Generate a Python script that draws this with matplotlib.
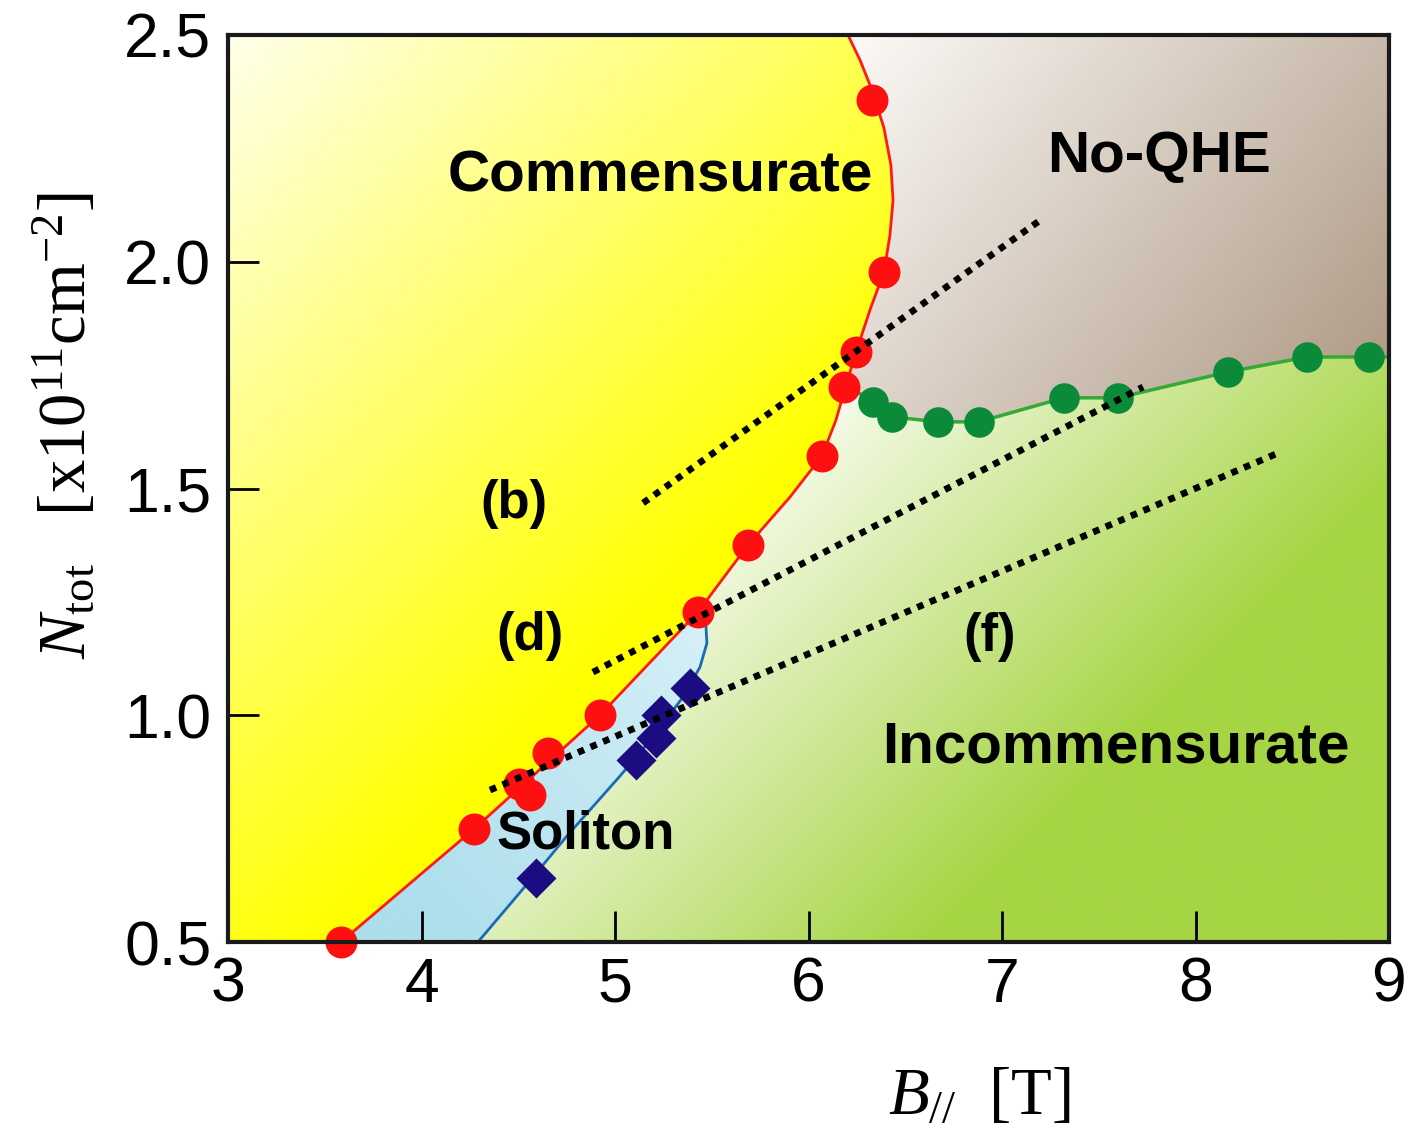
import numpy as np
import matplotlib
matplotlib.use("Agg")
import matplotlib.pyplot as plt
from matplotlib.patches import Polygon

plt.rcParams['font.family'] = ['Liberation Sans', 'DejaVu Sans']
plt.rcParams['mathtext.fontset'] = 'custom'
plt.rcParams['mathtext.rm'] = 'Liberation Serif'
plt.rcParams['mathtext.it'] = 'Liberation Serif:italic'
plt.rcParams['mathtext.bf'] = 'Liberation Serif:bold'

# ================================
# DATOS
# ================================
x_ticks = [3, 4, 5, 6, 7, 8, 9]
y_ticks = [0.5, 1.0, 1.5, 2.0, 2.5]

# puntos rojos: borde commensurate
red_x = [3.584, 4.271, 4.504, 4.561, 4.654, 4.922, 5.429, 5.687, 6.070, 6.183, 6.246, 6.390, 6.328]
red_y = [0.500, 0.749, 0.848, 0.824, 0.917, 1.000, 1.228, 1.375, 1.572, 1.724, 1.801, 1.977, 2.357]

# linea roja (frontera de la fase commensurate)
red_line_x = [3.584, 4.271, 4.922, 5.429, 5.687, 5.904, 6.070, 6.142, 6.194, 6.246,
              6.318, 6.390, 6.421, 6.437, 6.426, 6.390, 6.328, 6.266, 6.204]
red_line_y = [0.500, 0.749, 1.000, 1.228, 1.375, 1.481, 1.572, 1.651, 1.728, 1.801,
              1.894, 1.977, 2.059, 2.136, 2.213, 2.295, 2.379, 2.445, 2.500]
JB = 3   # union con la linea azul
JG = 8   # union con la linea verde

# rombos azules: fase soliton
blue_x = [4.590, 5.110, 5.210, 5.240, 5.390]
blue_y = [0.641, 0.901, 0.950, 1.000, 1.060]

# linea azul (desde abajo hasta la linea roja)
blue_line_x = [4.292, 4.576, 4.752, 5.026, 5.196, 5.351, 5.439, 5.475, 5.470, 5.429]
blue_line_y = [0.500, 0.643, 0.734, 0.866, 0.952, 1.040, 1.106, 1.159, 1.197, 1.228]

# puntos verdes: borde No-QHE
green_x = [6.333, 6.430, 6.670, 6.880, 7.320, 7.599, 8.168, 8.576, 8.897]
green_y = [1.691, 1.658, 1.647, 1.647, 1.700, 1.700, 1.757, 1.790, 1.790]
green_line_x = [red_line_x[JG]] + green_x + [9.0]
green_line_y = [red_line_y[JG]] + green_y + [1.790]

# cortes punteados (b), (d), (f)
cut_x = [[5.145, 7.212], [4.886, 7.729], [4.354, 8.426]]
cut_y = [[1.468, 2.096], [1.095, 1.724], [0.835, 1.578]]

# ================================
# FIGURA
# ================================
fig = plt.figure(figsize=(14.07, 11.28), dpi=100)
ax = fig.add_axes([228/1407, 1 - 942/1128, 1161/1407, 907/1128])

# malla en pixeles del area del grafico (para los degradados)
W, H = 1161, 907
xx, yy = np.meshgrid(np.linspace(0, W, 580), np.linspace(0, H, 450))


def degradado(c0, c1, t):
    t = np.clip(t, 0, 1)[..., None]
    return (np.array(c0) * (1 - t) + np.array(c1) * t) / 255


def rellenar(xs, ys, rgb):
    poly = Polygon(np.column_stack([xs, ys]), closed=True,
                   facecolor='none', edgecolor='none')
    ax.add_patch(poly)
    im = ax.imshow(rgb, extent=(3, 9, 0.5, 2.5), origin='upper',
                   aspect='auto', interpolation='bilinear', zorder=0)
    im.set_clip_path(poly)


# Commensurate (amarillo)
t = (xx + yy) / 1000
rellenar([3] + red_line_x + [3], [0.5] + red_line_y + [2.5],
         degradado((255, 255, 235), (255, 255, 0), t))

# Soliton (celeste)
sx = red_line_x[:JB + 1] + blue_line_x[::-1][1:]
sy = red_line_y[:JB + 1] + blue_line_y[::-1][1:]
t = ((472 - xx) + (yy - 575)) / 600
rellenar(sx, sy, degradado((214, 240, 247), (172, 222, 236), t))

# Incommensurate (verde)
ix = blue_line_x + red_line_x[JB + 1:JG] + green_line_x + [9.0]
iy = blue_line_y + red_line_y[JB + 1:JG] + green_line_y + [0.5]
t = ((xx - 552) + (yy - 405)) / 650
rellenar(ix, iy, degradado((248, 252, 238), (166, 213, 68), t))

# No-QHE (marron)
nx = red_line_x[JG:] + [9.0] + green_line_x[::-1][:-1]
ny = red_line_y[JG:] + [2.5] + green_line_y[::-1][:-1]
t = ((xx - 622) + 0.8 * yy) / 796
rellenar(nx, ny, degradado((252, 250, 247), (176, 156, 136), t))

# lineas de frontera
ax.plot(red_line_x, red_line_y, color='#ff1a1a', lw=2, zorder=2)
ax.plot(blue_line_x, blue_line_y, color='#1a6bb5', lw=2, zorder=2)
ax.plot(green_line_x, green_line_y, color='#35a835', lw=2.5, zorder=2)

# marcadores
ax.plot(red_x, red_y, 'o', ms=23, color='#ff1010', mec='none', zorder=3, clip_on=False)
ax.plot(green_x, green_y, 'o', ms=22, color='#0b8a3a', mec='none', zorder=3)
ax.plot(blue_x, blue_y, 'D', ms=20, color='#1c0c82', mec='none', zorder=3)

# cortes punteados
for xs, ys in zip(cut_x, cut_y):
    ax.plot(xs, ys, color='k', lw=4.8, linestyle=(0, (1, 1.05)), zorder=5)

# textos de las fases
ax.text(5.233, 2.154, 'Commensurate', ha='center', va='baseline', fontsize=42, fontweight='bold', zorder=6)
ax.text(7.811, 2.198, 'No-QHE', ha='center', va='baseline', fontsize=42, fontweight='bold', zorder=6)
ax.text(7.590, 0.895, 'Incommensurate', ha='center', va='baseline', fontsize=42, fontweight='bold', zorder=6)
ax.text(4.850, 0.707, 'Soliton', ha='center', va='baseline', fontsize=38, fontweight='bold', zorder=6)
ax.text(4.478, 1.435, '(b)', ha='center', va='baseline', fontsize=38, fontweight='bold', zorder=6)
ax.text(4.561, 1.144, '(d)', ha='center', va='baseline', fontsize=38, fontweight='bold', zorder=6)
ax.text(6.938, 1.142, '(f)', ha='center', va='baseline', fontsize=38, fontweight='bold', zorder=6)

# ejes
ax.set_xlim(3, 9)
ax.set_ylim(0.5, 2.5)
ax.set_xticks(x_ticks)
ax.set_xticklabels([str(v) for v in x_ticks])
ax.set_yticks(y_ticks)
ax.set_yticklabels([f"{v:.1f}" for v in y_ticks])
ax.tick_params(direction='in', length=22, width=2, labelsize=45)
ax.tick_params(axis='x', pad=10)
ax.tick_params(axis='y', pad=12)
for s in ax.spines.values():
    s.set_linewidth(3)
    s.set_color('#1a1a1a')
    s.set_zorder(7)

ax.set_xlabel(r'$B_{//}\ \ [{\rm T}]$', fontsize=48)
ax.xaxis.set_label_coords(0.647, -0.169)
ax.xaxis.label.set_verticalalignment('center')
ax.set_ylabel(r'$N_{\rm tot}\ \ \ [{\rm x10^{11}cm^{-2}}]$', fontsize=48)
ax.yaxis.set_label_coords(-0.140, 0.570)
ax.yaxis.label.set_verticalalignment('center')

fig.savefig('out.png', dpi=100)
